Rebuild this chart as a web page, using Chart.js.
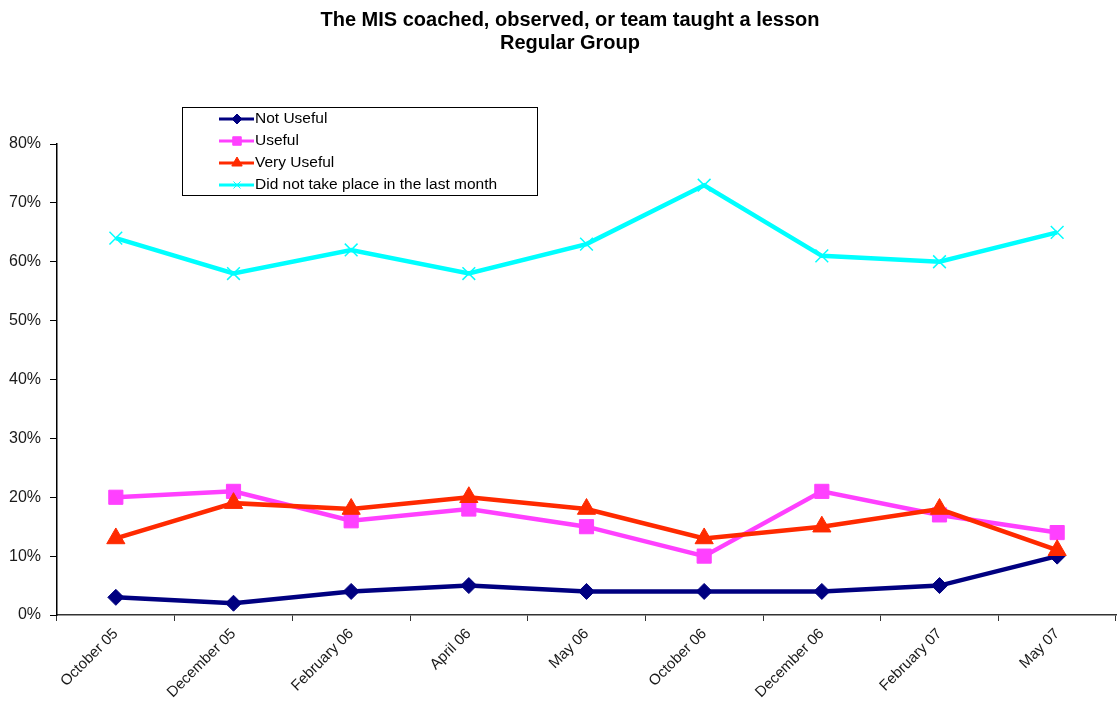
<!DOCTYPE html>
<html>
<head>
<meta charset="utf-8">
<title>The MIS coached, observed, or team taught a lesson</title>
<script src="https://cdn.jsdelivr.net/npm/chart.js@4/dist/chart.umd.min.js"></script>
<style>
  html, body { margin: 0; padding: 0; background: #fff; }
  #wrap { width: 1118px; height: 717px; position: relative; }
</style>
</head>
<body>
<div id="wrap"><canvas id="chart"></canvas></div>
<script>
// chart data
const months = ['October 05', 'December 05', 'February 06', 'April 06', 'May 06',
  'October 06', 'December 06', 'February 07', 'May 07'];
const notUseful = [3, 2, 4, 5, 4, 4, 4, 5, 10];
const useful = [20, 21, 16, 18, 15, 10, 21, 17, 14];
const veryUseful = [13, 19, 18, 20, 18, 13, 15, 18, 11];
const didNotTakePlace = [64, 58, 62, 58, 63, 73, 61, 60, 65];
const titleLines = ['The MIS coached, observed, or team taught a lesson', 'Regular Group'];

const FONT = 'Arial, "Liberation Sans", sans-serif';

function series(label, data, color, style, radius, order) {
  return {
    label,
    data,
    borderColor: color,
    backgroundColor: color,
    borderWidth: 4.5,
    pointStyle: style,
    pointRadius: radius,
    pointBorderWidth: style === 'crossRot' ? 1.5 : 1,
    pointBorderColor: color,
    pointBackgroundColor: color,
    tension: 0,
    order,
  };
}

// title + legend box drawn at fixed spots like the original
const decorations = {
  id: 'decorations',
  afterDraw(chart) {
    const ctx = chart.ctx;
    ctx.save();
    ctx.fillStyle = '#000';
    ctx.textAlign = 'center';
    ctx.textBaseline = 'middle';
    ctx.font = 'bold 20px ' + FONT;
    titleLines.forEach((t, i) => ctx.fillText(t, 570, 20 + i * 23));

    // legend
    ctx.fillStyle = '#fff';
    ctx.fillRect(182.5, 107.5, 355, 88);
    ctx.strokeStyle = '#000';
    ctx.lineWidth = 1;
    ctx.strokeRect(182.5, 107.5, 355, 88);
    const legendRadius = { rectRot: 5, rect: 6, triangle: 6, crossRot: 5 };
    chart.data.datasets.forEach((ds, i) => {
      const y = 119 + i * 22;
      ctx.strokeStyle = ds.borderColor;
      ctx.lineWidth = 3;
      ctx.beginPath();
      ctx.moveTo(219, y);
      ctx.lineTo(254, y);
      ctx.stroke();
      ctx.fillStyle = ds.backgroundColor;
      ctx.lineWidth = 1;
      Chart.helpers.drawPoint(ctx, {
        pointStyle: ds.pointStyle,
        radius: legendRadius[ds.pointStyle],
        rotation: 0,
        borderWidth: 1,
      }, 237, y);
      ctx.fillStyle = '#000';
      ctx.textAlign = 'left';
      ctx.font = '15.5px ' + FONT;
      ctx.fillText(ds.label, 255, y);
    });
    ctx.restore();
  }
};

new Chart(document.getElementById('chart').getContext('2d'), {
  type: 'line',
  data: {
    labels: months,
    datasets: [
      series('Not Useful', notUseful, '#000080', 'rectRot', 8, 4),
      series('Useful', useful, '#ff40ff', 'rect', 10, 3),
      series('Very Useful', veryUseful, '#ff2a00', 'triangle', 10.5, 2),
      series('Did not take place in the last month', didNotTakePlace, '#00ffff', 'crossRot', 9, 1),
    ],
  },
  options: {
    responsive: true,
    maintainAspectRatio: false,
    animation: false,
    events: [],
    layout: { padding: { top: 144, right: 2, left: 0, bottom: 0 }, autoPadding: false },
    plugins: {
      legend: { display: false },
      title: { display: false },
      tooltip: { enabled: false },
    },
    scales: {
      x: {
        offset: true,
        afterFit: s => { s.height = 102; },
        grid: { offset: true, drawOnChartArea: false, tickLength: 6, color: '#333', tickColor: '#333' },
        border: { color: '#333', width: 1.5 },
        ticks: {
          maxRotation: 45,
          minRotation: 45,
          padding: 4,
          color: '#1a1a1a',
          font: { family: FONT, size: 15 },
        },
      },
      y: {
        min: 0,
        max: 80,
        afterFit: s => { s.width = 57; },
        grid: { drawOnChartArea: false, tickLength: 7, color: '#000', tickColor: '#000' },
        border: { color: '#000', width: 1.5 },
        ticks: {
          stepSize: 10,
          padding: 9,
          color: '#1a1a1a',
          font: { family: FONT, size: 16 },
          callback: v => v + '%',
        },
      },
    },
  },
  plugins: [decorations],
});
</script>
</body>
</html>
